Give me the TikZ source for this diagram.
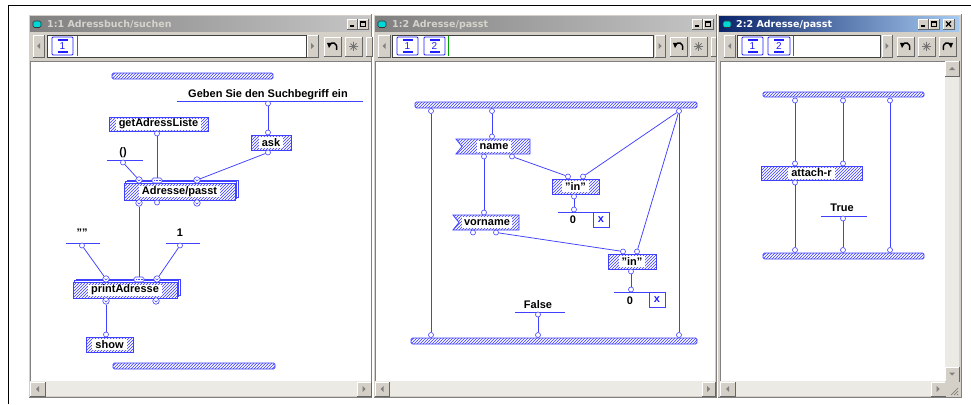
\documentclass[tikz,border=0pt]{standalone}
\usepackage{fontspec}
\setmainfont{Liberation Sans}
\newfontfamily\titlefont{DejaVu Sans}
\usetikzlibrary{patterns}

% diagonal hatch used for operations and bars
\pgfdeclarepatternformonly{opshade}{\pgfqpoint{-1pt}{-1pt}}{\pgfqpoint{4pt}{4pt}}{\pgfqpoint{3pt}{3pt}}{%
  \pgfsetlinewidth{0.6pt}%
  \pgfpathmoveto{\pgfqpoint{-0.2pt}{-0.2pt}}%
  \pgfpathlineto{\pgfqpoint{3.2pt}{3.2pt}}%
  \pgfusepath{stroke}}

\definecolor{wire}{RGB}{64,64,255}
\definecolor{hatch}{RGB}{60,60,255}
\definecolor{chrome}{RGB}{212,208,200}
\definecolor{chromedark}{RGB}{128,128,128}
\definecolor{trough}{RGB}{236,234,229}
\definecolor{tgL}{RGB}{128,128,128}
\definecolor{tgR}{RGB}{198,198,198}
\definecolor{tbL}{RGB}{10,36,106}
\definecolor{tbR}{RGB}{166,202,240}
\definecolor{tgtext}{RGB}{214,211,204}
\definecolor{iconcyan}{RGB}{0,215,215}
\definecolor{fieldgreen}{RGB}{0,160,0}
\definecolor{iconblue}{RGB}{30,30,255}

% raised 3D button: top-left (#1,#2), bottom-right (#3,#4)
\newcommand\rbtn[4]{%
  \fill[chrome] (#1,#2) rectangle (#3,#4);
  \draw[white,line width=.8pt] (#1,#4) -- (#1,#2) -- (#3,#2);
  \draw[black!60,line width=.8pt] (#1,#4) -- (#3,#4) -- (#3,#2);}
% window frame between x=#1 and x=#2
\newcommand\winframe[2]{%
  \fill[chrome] (#1,14) rectangle (#2,398);
  \draw[white] (#1+.5,397.5) -- (#1+.5,14.5) -- (#2-.5,14.5);
  \draw[chromedark] (#1+.5,397.5) -- (#2-.5,397.5) -- (#2-.5,14.5);}
% case tab icon: x from #1 to #2, digit #3
\newcommand\tabicon[3]{%
  \draw[iconblue,line width=.8pt,fill=white,rounded corners=1pt] (#1,37) rectangle (#2,55);
  \draw[iconblue,line width=1.5pt] ({(#1+#2)/2-5},40.2) -- ({(#1+#2)/2+5},40.2);
  \draw[iconblue,line width=1.5pt] ({(#1+#2)/2-5},52) -- ({(#1+#2)/2+5},52);
  \node[text=iconblue,font=\fontsize{10}{10}\selectfont,inner sep=0pt] (tab#1) at ({(#1+#2)/2},46.5) {#3};}
% title bar icon at x=#1
\newcommand\winicon[1]{%
  \draw[black!80,fill=iconcyan,rounded corners=1.5pt,line width=.6pt] (#1,21) rectangle (#1+8,27.5);}
% title bar buttons
\newcommand\minbtn[1]{\rbtn{#1}{19}{#1+10}{29}\draw[black,line width=1.4pt] (#1+2.5,26) -- (#1+6.5,26);}
\newcommand\maxbtn[1]{\rbtn{#1}{19}{#1+10}{29}\draw[black,line width=.6pt] (#1+2.3,21.5) rectangle (#1+7.7,26.7);\draw[black,line width=1.2pt] (#1+2.3,22) -- (#1+7.7,22);}
\newcommand\closebtn[1]{\rbtn{#1}{19}{#1+11}{29}\draw[black,line width=1.1pt] (#1+3,21.5) -- (#1+8,26.5) (#1+8,21.5) -- (#1+3,26.5);}
% toolbar buttons
\newcommand\undobtn[1]{\rbtn{#1}{37}{#1+17}{56}%
  \draw[black,line width=1.4pt] (#1+5,45) .. controls (#1+8,41.5) and (#1+14,42) .. (#1+12.5,50);
  \fill[black] (#1+3,43) -- (#1+8,43) -- (#1+5,48) -- cycle;}
\newcommand\redobtn[1]{\rbtn{#1}{37}{#1+17}{56}%
  \draw[black,line width=1.4pt] (#1+12,45) .. controls (#1+9,41.5) and (#1+3,42) .. (#1+4.5,50);
  \fill[black] (#1+14,43) -- (#1+9,43) -- (#1+12,48) -- cycle;}
\newcommand\starbtn[1]{\rbtn{#1}{37}{#1+17}{56}%
  \draw[black!55,line width=.8pt] (#1+8.5,42) -- (#1+8.5,51) (#1+4,46.5) -- (#1+13,46.5)
    (#1+5.5,43.5) -- (#1+11.5,49.5) (#1+11.5,43.5) -- (#1+5.5,49.5);}
% scroll arrow buttons
\newcommand\leftarr[4]{\rbtn{#1}{#2}{#3}{#4}\fill[chromedark] ({(#1+#3)/2-1.5},{(#2+#4)/2}) -- ({(#1+#3)/2+1.5},{(#2+#4)/2-3}) -- ({(#1+#3)/2+1.5},{(#2+#4)/2+3}) -- cycle;}
\newcommand\rightarr[4]{\rbtn{#1}{#2}{#3}{#4}\fill[chromedark] ({(#1+#3)/2+1.5},{(#2+#4)/2}) -- ({(#1+#3)/2-1.5},{(#2+#4)/2-3}) -- ({(#1+#3)/2-1.5},{(#2+#4)/2+3}) -- cycle;}
\newcommand\uparr[4]{\rbtn{#1}{#2}{#3}{#4}\fill[chromedark] ({(#1+#3)/2},{(#2+#4)/2-1.5}) -- ({(#1+#3)/2-3},{(#2+#4)/2+1.5}) -- ({(#1+#3)/2+3},{(#2+#4)/2+1.5}) -- cycle;}
\newcommand\downarr[4]{\rbtn{#1}{#2}{#3}{#4}\fill[chromedark] ({(#1+#3)/2},{(#2+#4)/2+1.5}) -- ({(#1+#3)/2-3},{(#2+#4)/2-1.5}) -- ({(#1+#3)/2+3},{(#2+#4)/2-1.5}) -- cycle;}

\tikzset{
  wirestyle/.style={draw=wire,line width=.75pt},
  term/.style={circle,draw=wire,fill=white,line width=.6pt,inner sep=0pt,minimum size=5pt},
  loopterm/.style={circle,draw=wire,fill=white,line width=.6pt,inner sep=0pt,minimum size=6.5pt,
    path picture={\draw[wire,line width=.5pt] ([xshift=-1.4pt,yshift=.4pt]path picture bounding box.center) arc[start angle=180,end angle=360,radius=1.4pt];}},
  listterm/.style={rectangle,rounded corners=1.5pt,draw=wire,fill=white,line width=.6pt,inner sep=0pt,minimum width=10pt,minimum height=5pt,
    path picture={\draw[wire,line width=.6pt,dash pattern=on .7pt off .9pt] ([xshift=-3pt]path picture bounding box.center) -- ([xshift=3.5pt]path picture bounding box.center);}},
  opbox/.style={draw=wire,line width=.8pt,inner sep=0pt,pattern=opshade,pattern color=hatch,preaction={fill=white}},
  oplabel/.style={fill=white,inner xsep=3pt,inner ysep=0pt,minimum height=11pt,font=\bfseries\fontsize{11}{12}\selectfont},
  hbar/.style={draw=wire,line width=.8pt,pattern=opshade,pattern color=hatch,rounded corners=1.5pt},
  cline/.style={draw=wire,line width=.9pt},
  ctext/.style={font=\bfseries\fontsize{11}{12}\selectfont,inner sep=0pt},
  failbox/.style={draw=wire,line width=.8pt,fill=white,inner sep=0pt,minimum width=16pt,minimum height=15pt,text=iconblue,font=\bfseries\fontsize{11}{12}\selectfont},
  wtitle/.style={anchor=west,inner sep=0pt,font=\titlefont\bfseries\fontsize{9.5}{10}\selectfont},
}

\begin{document}
\begin{tikzpicture}[x=1pt,y=-1pt]
\useasboundingbox (0,0) rectangle (971,404);
\fill[white] (0,0) rectangle (971,404);
\draw[black,line width=1pt] (8,404) -- (8,6) -- (971,6);

% ---------------- window frames ----------------
\winframe{28}{372}
\winframe{373}{717}
\winframe{717}{962}

% title bars
\shade[left color=tgL,right color=tgR] (30,17) rectangle (370,31.5);
\shade[left color=tgL,right color=tgR] (375,17) rectangle (715,31.5);
\shade[left color=tbL,right color=tbR] (719,17) rectangle (959,31.5);
\winicon{33}\winicon{378}\winicon{723}
\node[wtitle,text=tgtext] (title1) at (47,24.5) {1:1 Adressbuch/suchen};
\node[wtitle,text=tgtext] (title2) at (392,24.5) {1:2 Adresse/passt};
\node[wtitle,text=white] (title3) at (736,24.5) {2:2 Adresse/passt};
\minbtn{347}\maxbtn{358}
\minbtn{692}\maxbtn{703}
\minbtn{918}\maxbtn{929}\closebtn{943}

% toolbars
\leftarr{33}{35}{44}{57}
\fill[white] (47,35) rectangle (306,57); \draw[black!75,line width=.8pt] (47,35) rectangle (306,57);
\tabicon{52}{73}{1}
\draw[fieldgreen,line width=.7pt] (77,36) -- (77,56);
\rightarr{307}{35}{318}{57}
\undobtn{324}\starbtn{345}
\rbtn{366}{37}{372}{56}

\leftarr{378}{35}{390}{57}
\fill[white] (392,35) rectangle (653,57); \draw[black!75,line width=.8pt] (392,35) rectangle (653,57);
\tabicon{397}{418}{1}\tabicon{424}{445}{2}
\draw[fieldgreen,line width=.7pt] (448,36) -- (448,56);
\rightarr{655}{35}{665}{57}
\undobtn{670}\starbtn{690}
\rbtn{711}{37}{716}{56}

\leftarr{724}{35}{735}{57}
\fill[white] (737,35) rectangle (880,57); \draw[black!75,line width=.8pt] (737,35) rectangle (880,57);
\tabicon{742}{763}{1}\tabicon{768}{790}{2}
\draw[fieldgreen,line width=.7pt] (793,36) -- (793,56);
\rightarr{882}{35}{892}{57}
\undobtn{897}\starbtn{918}\redobtn{939}

% canvases
\fill[white] (30,61) rectangle (371,381);
\fill[white] (375,61) rectangle (715,381);
\fill[white] (720,61) rectangle (945,381);
\draw[chromedark,line width=.6pt] (30,381) -- (30,61) -- (371,61);
\draw[chromedark,line width=.6pt] (375,381) -- (375,61) -- (715,61);
\draw[chromedark,line width=.6pt] (720,381) -- (720,61) -- (945,61);

% scroll bars
\fill[trough] (30,381) rectangle (371,396);
\leftarr{30}{382}{45}{396}\rightarr{357}{382}{371}{396}
\fill[trough] (375,381) rectangle (715,396);
\leftarr{375}{382}{389}{396}\rightarr{702}{382}{715}{396}
\fill[trough] (720,381) rectangle (945,396);
\leftarr{720}{382}{735}{396}\rightarr{931}{382}{945}{396}
\fill[trough] (945,61) rectangle (959,381);
\uparr{945}{61}{959}{76}\downarr{945}{367}{959}{381}
\fill[chrome] (945,381) rectangle (959,396);
\draw[chromedark,line width=.7pt] (951,395) -- (958,388) (954,395) -- (958,391) (957,395) -- (958,394);

% ---------------- 1:1 Adressbuch/suchen ----------------
\draw[hbar] (112,73) rectangle (273,79);
\node[ctext] (prompt) at (268,95) {Geben Sie den Suchbegriff ein};
\draw[cline] (177,101) -- (363,101);
\node[term] (promptout) at (268,103.5) {};

\node[opbox,minimum width=40pt,minimum height=15pt,label={[oplabel]center:ask}] (ask) at (271,142.5) {};
\node[term] (askin) at (268,132.5) {};
\node[term] (askout) at (268,152.5) {};

\node[opbox,minimum width=99pt,minimum height=14pt,label={[oplabel]center:getAdressListe}] (getlist) at (158.5,124) {};
\node[term] (getout) at (157,133.5) {};

\node[ctext] (paren) at (123,153) {()};
\draw[cline] (107,160) -- (143,160);
\node[term] (parenout) at (123,162.5) {};

% Adresse/passt, looped over a list
\draw[draw=wire,line width=.7pt,fill=white] (127,180) rectangle (238,197);
\draw[draw=wire,line width=.7pt,fill=white] (125.5,181.5) rectangle (236.5,198.5);
\node[opbox,minimum width=111pt,minimum height=17pt,label={[oplabel]center:Adresse/passt}] (passt) at (179.5,191.5) {};
\node[loopterm] (passtin1) at (139,180) {};
\node[listterm] (passtin2) at (157,180.5) {};
\node[loopterm] (passtin3) at (197,180) {};
\node[loopterm] (passtout1) at (139,203) {};
\node[term] (passtout2) at (157,202.5) {};
\node[loopterm] (passtout3) at (197,203) {};

\node[ctext] (empty) at (82,233) {""};
\draw[cline] (66,243) -- (100,243);
\node[term] (emptyout) at (82,245.5) {};
\node[ctext] (one) at (180,233) {1};
\draw[cline] (166,243) -- (200,243);
\node[term] (oneout) at (180,245.5) {};

% printAdresse, looped over a list
\draw[draw=wire,line width=.7pt,fill=white] (76,279) rectangle (180,295);
\draw[draw=wire,line width=.7pt,fill=white] (74.5,280.5) rectangle (178.5,296.5);
\node[opbox,minimum width=104pt,minimum height=16pt,label={[oplabel]center:printAdresse}] (print) at (125,290) {};
\node[loopterm] (printin1) at (106,279) {};
\node[listterm] (printin2) at (139,279.5) {};
\node[loopterm] (printin3) at (157,279) {};
\node[loopterm] (printout1) at (106,301) {};
\node[loopterm] (printout2) at (156,301) {};

\node[opbox,minimum width=47pt,minimum height=15pt,label={[oplabel]center:show}] (show) at (109.5,344.5) {};
\node[term] (showin) at (106,334.5) {};

\draw[hbar] (113,363) rectangle (275,369);

\draw[wirestyle] (promptout) -- (askin);
\draw[wirestyle] (parenout) -- (passtin1);
\draw[wirestyle] (getout) -- (passtin2);
\draw[wirestyle] (askout) -- (passtin3);
\draw[wirestyle] (passtout1) -- (printin2);
\draw[wirestyle] (emptyout) -- (printin1);
\draw[wirestyle] (oneout) -- (printin3);
\draw[wirestyle] (printout1) -- (showin);

% ---------------- 1:2 Adresse/passt ----------------
\draw[hbar] (415,102) rectangle (697,108);
\node[term] (ain1) at (431,111) {};
\node[term] (ain2) at (492,111) {};
\node[term] (ain3) at (679,111) {};

\draw[opbox] (456,139) -- (530,139) -- (530,154) -- (456,154) -- (462,146.5) -- cycle;
\node[oplabel,inner xsep=2.5pt] (name) at (494,146.5) {name};
\node[term] (namein) at (492,136.5) {};
\node[term] (nameout1) at (484,156.5) {};
\node[term] (nameout2) at (512,156.5) {};

\node[opbox,minimum width=47pt,minimum height=15pt,label={[oplabel]center:"in"}] (inA) at (575.5,186.5) {};
\node[term] (inAin1) at (568,176.5) {};
\node[term] (inAin2) at (583,176.5) {};
\node[term] (inAout) at (574,196.5) {};
\node[term] (zeroA) at (574,209.5) {};
\draw[cline] (558,212) -- (593,212);
\node[ctext] (zeroAtxt) at (573,220) {0};
\node[failbox] (failA) at (601,220) {x};

\draw[opbox] (453,215) -- (519,215) -- (519,230) -- (453,230) -- (459,222.5) -- cycle;
\node[oplabel,inner xsep=2.5pt] (vorname) at (487,222.5) {vorname};
\node[term] (vornamein) at (484,212.5) {};
\node[term] (vornameout1) at (473,232.5) {};
\node[term] (vornameout2) at (496,232.5) {};

\node[opbox,minimum width=48pt,minimum height=15pt,label={[oplabel]center:"in"}] (inB) at (632,261.5) {};
\node[term] (inBin1) at (623,251.5) {};
\node[term] (inBin2) at (637,251.5) {};
\node[term] (inBout) at (631,271.5) {};
\node[term] (zeroB) at (631,289.5) {};
\draw[cline] (614,292) -- (650,292);
\node[ctext] (zeroBtxt) at (630,300.5) {0};
\node[failbox] (failB) at (657,300) {x};

\node[ctext] (falsetxt) at (538,305) {False};
\draw[cline] (515,312) -- (565,312);
\node[term] (falseout) at (538,314.5) {};

\draw[hbar] (411,338) rectangle (697,344);
\node[term] (aout1) at (431,335) {};
\node[term] (aout2) at (538,335) {};
\node[term] (aout3) at (679,335) {};

\draw[wirestyle] (ain1) -- (aout1);
\draw[wirestyle] (ain2) -- (namein);
\draw[wirestyle] (ain3) -- (inAin2);
\draw[wirestyle] (ain3) -- (inBin2);
\draw[wirestyle] (ain3) -- (aout3);
\draw[wirestyle] (nameout2) -- (inAin1);
\draw[wirestyle] (nameout1) -- (vornamein);
\draw[wirestyle] (inAout) -- (zeroA);
\draw[wirestyle] (vornameout2) -- (inBin1);
\draw[wirestyle] (inBout) -- (zeroB);
\draw[wirestyle] (falseout) -- (aout2);

% ---------------- 2:2 Adresse/passt ----------------
\draw[hbar] (763,92) rectangle (924,97);
\node[term] (bin1) at (795,100.5) {};
\node[term] (bin2) at (843,100.5) {};
\node[term] (bin3) at (890,100.5) {};

\node[opbox,minimum width=101pt,minimum height=14pt,label={[oplabel]center:attach-r}] (attach) at (811.5,173) {};
\node[term] (attachin1) at (795,163.5) {};
\node[term] (attachin2) at (843,163.5) {};
\node[term] (attachout) at (795,182.5) {};

\node[ctext] (truetxt) at (842,208) {True};
\draw[cline] (821,216) -- (867,216);
\node[term] (trueout) at (843,218.5) {};

\draw[hbar] (763,253) rectangle (924,259);
\node[term] (bout1) at (795,250) {};
\node[term] (bout2) at (843,250) {};
\node[term] (bout3) at (890,250) {};

\draw[wirestyle] (bin1) -- (attachin1);
\draw[wirestyle] (bin2) -- (attachin2);
\draw[wirestyle] (bin3) -- (bout3);
\draw[wirestyle] (attachout) -- (bout1);
\draw[wirestyle] (trueout) -- (bout2);
\end{tikzpicture}
\end{document}
